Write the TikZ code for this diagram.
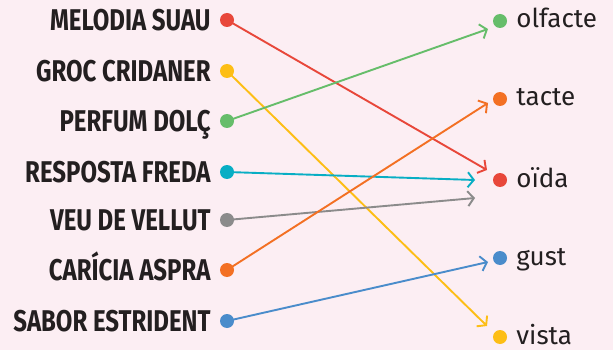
\documentclass[tikz,border=0pt]{standalone}
\usepackage{fontspec}
\setmainfont{Fira Sans}
\newfontfamily\capsfont[FakeStretch=0.8]{Fira Sans}
\usepackage{tikz}
\usetikzlibrary{positioning, arrows.meta}

\definecolor{bgpink}{HTML}{FCEEF3}
\definecolor{txtdark}{HTML}{231F20}
\definecolor{cred}{HTML}{E8473A}
\definecolor{cyellow}{HTML}{FDBE15}
\definecolor{cgreen}{HTML}{66BD6A}
\definecolor{ccyan}{HTML}{08AEC4}
\definecolor{cgray}{HTML}{8B8B8B}
\definecolor{corange}{HTML}{F37023}
\definecolor{cblue}{HTML}{4A8CCB}

\begin{document}
\begin{tikzpicture}[
    x=1pt, y=-1pt,
    node distance=9pt,
    % --- STYLES ---
    dot/.style={circle, fill=#1, inner sep=0pt, minimum size=14pt},
    cue/.style={font=\capsfont\bfseries\fontsize{30}{34}\selectfont, text=txtdark,
        inner sep=0pt, text height=21pt, text depth=0pt},
    sense/.style={font=\fontsize{26}{30}\selectfont, text=txtdark,
        inner sep=0pt, text height=14pt, text depth=0pt},
    link/.style={line width=1.9pt, draw=#1, -{Straight Barb[length=6pt, width=15pt]}}
]

% --- BACKGROUND ---
\fill[bgpink] (0,0) rectangle (613,350);
\useasboundingbox (0,0) rectangle (613,350);

% --- LEFT COLUMN ---
\node (d_melodia) [dot=cred] at (227,20) {};
\node (d_groc) [dot=cyellow] at (227,71) {};
\node (d_perfum) [dot=cgreen] at (227,121) {};
\node (d_resposta) [dot=ccyan] at (227,172) {};
\node (d_veu) [dot=cgray] at (227,220) {};
\node (d_caricia) [dot=corange] at (227,270) {};
\node (d_sabor) [dot=cblue] at (227,321) {};

\node (melodia) [cue, left=of d_melodia] {MELODIA SUAU};
\node (groc) [cue, left=of d_groc] {GROC CRIDANER};
\node (perfum) [cue, left=of d_perfum] {PERFUM DOLÇ};
\node (resposta) [cue, left=of d_resposta] {RESPOSTA FREDA};
\node (veu) [cue, left=of d_veu] {VEU DE VELLUT};
\node (caricia) [cue, left=of d_caricia] {CARÍCIA ASPRA};
\node (sabor) [cue, left=of d_sabor] {SABOR ESTRIDENT};

% --- RIGHT COLUMN ---
\node (d_olfacte) [dot=cgreen] at (500,21) {};
\node (d_tacte) [dot=corange] at (500,99) {};
\node (d_oida) [dot=cred] at (500,180) {};
\node (d_gust) [dot=cblue] at (500,258) {};
\node (d_vista) [dot=cyellow] at (500,337) {};

\node (olfacte) [sense, right=of d_olfacte] {olfacte};
\node (tacte) [sense, right=of d_tacte] {tacte};
\node (oida) [sense, right=of d_oida] {oïda};
\node (gust) [sense, right=of d_gust] {gust};
\node (vista) [sense, right=of d_vista] {vista};

% arrow ends (slightly off the dots)
\coordinate (e_melodia) at (487,170);
\coordinate (e_groc) at (487,326);
\coordinate (e_perfum) at (488,29);
\coordinate (e_resposta) at (475,180);
\coordinate (e_veu) at (475,198);
\coordinate (e_caricia) at (488,103);
\coordinate (e_sabor) at (488,262);

% --- LINKS ---
\draw [link=cred] (d_melodia.center) -- (e_melodia);
\draw [link=cyellow] (d_groc.center) -- (e_groc);
\draw [link=cgreen] (d_perfum.center) -- (e_perfum);
\draw [link=ccyan] (d_resposta.center) -- (e_resposta);
\draw [link=cgray] (d_veu.center) -- (e_veu);
\draw [link=corange] (d_caricia.center) -- (e_caricia);
\draw [link=cblue] (d_sabor.center) -- (e_sabor);

\end{tikzpicture}
\end{document}
